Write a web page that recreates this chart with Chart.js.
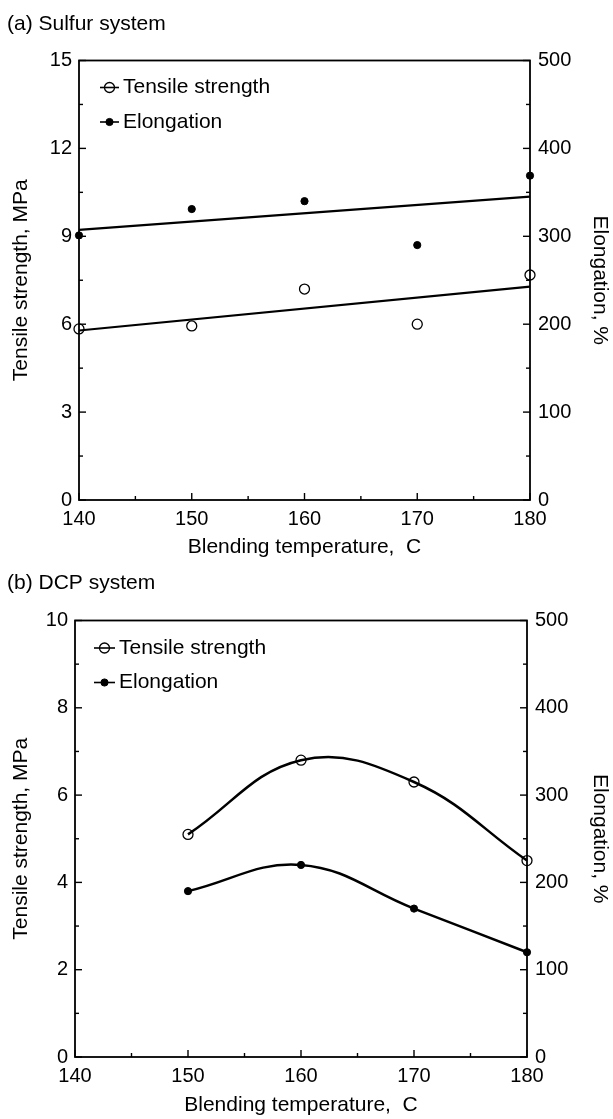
<!DOCTYPE html>
<html>
<head>
<meta charset="utf-8">
<script src="https://cdn.jsdelivr.net/npm/chart.js@4.4.1/dist/chart.umd.min.js"></script>
<style>
  html, body { margin: 0; padding: 0; background: #fff; }
  .panel { position: absolute; left: 0; width: 613px; }
  #pa { top: 0; height: 560px; }
  #pb { top: 560px; height: 559px; }
  canvas { display: block; }
</style>
</head>
<body>
<div class="panel" id="pa"><canvas id="ca" width="613" height="560"></canvas></div>
<div class="panel" id="pb"><canvas id="cb" width="613" height="559"></canvas></div>
<script>
// (a) Sulfur system
const tempsA   = [140, 150, 160, 170, 180];       // blending temperature, C
const tensileA = [5.84, 5.94, 7.2, 6.0, 7.68];    // MPa
const elongA   = [301, 331, 340, 290, 369];       // %

// (b) DCP system
const tempsB   = [150, 160, 170, 180];
const tensileB = [5.1, 6.8, 6.3, 4.5];
const elongB   = [190, 220, 170, 120];

// axis ticks
const xTicks      = [140, 150, 160, 170, 180];
const leftTicksA  = [0, 3, 6, 9, 12, 15];
const leftTicksB  = [0, 2, 4, 6, 8, 10];
const rightTicks  = [0, 100, 200, 300, 400, 500];

const FONT = "'Liberation Sans', Arial, Helvetica, sans-serif";
const INK = '#000';

const pts = (xs, ys) => xs.map((x, i) => ({ x, y: ys[i] }));

// least-squares straight line over the full temperature span
function fitLine(xs, ys, x0, x1) {
  const n = xs.length;
  const mx = xs.reduce((a, b) => a + b, 0) / n;
  const my = ys.reduce((a, b) => a + b, 0) / n;
  let sxy = 0, sxx = 0;
  xs.forEach((x, i) => { sxy += (x - mx) * (ys[i] - my); sxx += (x - mx) * (x - mx); });
  const b = sxy / sxx;
  return [{ x: x0, y: my + b * (x0 - mx) }, { x: x1, y: my + b * (x1 - mx) }];
}

const setTicks = values => scale => { scale.ticks = values.map(v => ({ value: v })); };
const midpoints = v => v.slice(1).map((b, i) => (v[i] + b) / 2);

const openMark = { pointStyle: 'circle', pointRadius: 5, pointHoverRadius: 5,
  pointBackgroundColor: 'rgba(0,0,0,0)', pointBorderColor: INK, pointBorderWidth: 1.3 };
const dotMark = { pointStyle: 'circle', pointRadius: 3.6, pointHoverRadius: 3.6,
  pointBackgroundColor: INK, pointBorderColor: INK, pointBorderWidth: 1 };

// box around the plot plus inward major/minor tick marks
const framePlugin = {
  id: 'frame',
  beforeDatasetsDraw(chart) {
    const { ctx, chartArea: a, scales } = chart;
    ctx.save();
    ctx.strokeStyle = INK;
    ctx.lineWidth = 1.8;
    ctx.strokeRect(a.left, a.top, a.right - a.left, a.bottom - a.top);
    ctx.lineWidth = 1.4;
    const mark = (s, vals, len) => vals.forEach(v => {
      const p = s.getPixelForValue(v);
      ctx.beginPath();
      if (s.axis === 'x') { ctx.moveTo(p, a.bottom); ctx.lineTo(p, a.bottom - len); }
      else if (s.position === 'left') { ctx.moveTo(a.left, p); ctx.lineTo(a.left + len, p); }
      else { ctx.moveTo(a.right, p); ctx.lineTo(a.right - len, p); }
      ctx.stroke();
    });
    Object.values(scales).forEach(s => {
      const major = s.ticks.map(t => t.value);
      mark(s, major, 7);
      mark(s, midpoints(major), 4);
    });
    ctx.restore();
  }
};

// key: short line with the series marker, then the series name
const keyPlugin = {
  id: 'key',
  afterDraw(chart, args, o) {
    const { ctx } = chart;
    const items = chart.data.datasets.filter(d => d.label);
    ctx.save();
    ctx.font = `21px ${FONT}`;
    ctx.textBaseline = 'middle';
    ctx.textAlign = 'left';
    items.forEach((d, i) => {
      const y = o.rows[i];
      ctx.strokeStyle = INK;
      ctx.lineWidth = 1.6;
      ctx.beginPath(); ctx.moveTo(o.x0, y); ctx.lineTo(o.x1, y); ctx.stroke();
      ctx.fillStyle = d.pointBackgroundColor;
      ctx.strokeStyle = d.pointBorderColor;
      ctx.lineWidth = d.pointBorderWidth;
      Chart.helpers.drawPoint(ctx, { pointStyle: 'circle', radius: d.pointRadius,
        borderWidth: d.pointBorderWidth, rotation: 0 }, (o.x0 + o.x1) / 2, y);
      ctx.fillStyle = INK;
      ctx.fillText(d.label, o.textX, y);
    });
    ctx.restore();
  }
};

function panelOptions(p) {
  const tickFont = { family: FONT, size: 20, weight: 'normal' };
  const titleFont = { family: FONT, size: 21, weight: 'normal' };
  const hidden = { display: false, drawTicks: false, tickLength: 0 };
  return {
    responsive: false,
    devicePixelRatio: 1,
    animation: false,
    events: [],
    layout: { padding: { left: 7, right: 0, top: 0, bottom: 0 } },
    plugins: {
      legend: { display: false },
      tooltip: { enabled: false },
      title: { display: true, text: p.title, align: 'start', color: INK,
        font: titleFont, padding: p.titlePad },
      key: p.key
    },
    scales: {
      x: {
        type: 'linear', position: 'bottom', min: 140, max: 180,
        afterBuildTicks: setTicks(xTicks),
        afterFit: s => { s.height = p.xH; },
        grid: hidden, border: { display: false },
        ticks: { color: INK, font: tickFont, padding: 7, maxRotation: 0, autoSkip: false },
        title: { display: true, text: 'Blending temperature,  C', color: INK, font: titleFont,
          padding: { top: 0, bottom: p.xTitlePad } }
      },
      y: {
        type: 'linear', position: 'left', min: 0, max: p.leftMax,
        afterBuildTicks: setTicks(p.leftTicks),
        afterFit: s => { s.width = p.yW; },
        grid: hidden, border: { display: false },
        ticks: { color: INK, font: tickFont, padding: 7 },
        title: { display: true, text: 'Tensile strength, MPa', color: INK, font: titleFont,
          padding: { top: 1.4, bottom: 0 } }
      },
      y2: {
        type: 'linear', position: 'right', min: 0, max: 500,
        afterBuildTicks: setTicks(rightTicks),
        afterFit: s => { s.width = p.y2W; },
        grid: hidden, border: { display: false },
        ticks: { color: INK, font: tickFont, padding: 8 },
        title: { display: true, text: 'Elongation, %', color: INK, font: titleFont,
          padding: { top: 0.4, bottom: 0 } }
      }
    }
  };
}

// (a) markers with straight trend lines
new Chart(document.getElementById('ca'), {
  type: 'scatter',
  data: {
    datasets: [
      Object.assign({ label: 'Tensile strength', data: pts(tempsA, tensileA), yAxisID: 'y', clip: false }, openMark),
      Object.assign({ label: 'Elongation', data: pts(tempsA, elongA), yAxisID: 'y2', clip: false }, dotMark),
      { data: fitLine(tempsA, tensileA, 140, 180), yAxisID: 'y', showLine: true,
        borderColor: INK, borderWidth: 2.2, pointRadius: 0, clip: false },
      { data: fitLine(tempsA, elongA, 140, 180), yAxisID: 'y2', showLine: true,
        borderColor: INK, borderWidth: 2.2, pointRadius: 0, clip: false }
    ]
  },
  options: panelOptions({
    title: '(a) Sulfur system', titlePad: { top: 11.4, bottom: 23.9 },
    xH: 60, xTitlePad: 0, yW: 72, y2W: 83,
    leftMax: 15, leftTicks: leftTicksA,
    key: { x0: 100, x1: 119, textX: 123, rows: [87.5, 122] }
  }),
  plugins: [framePlugin, keyPlugin]
});

// (b) markers joined by smooth curves
new Chart(document.getElementById('cb'), {
  type: 'scatter',
  data: {
    datasets: [
      Object.assign({ label: 'Tensile strength', data: pts(tempsB, tensileB), yAxisID: 'y',
        showLine: true, tension: 0.4, borderColor: INK, borderWidth: 2.5, clip: false }, openMark),
      Object.assign({ label: 'Elongation', data: pts(tempsB, elongB), yAxisID: 'y2',
        showLine: true, tension: 0.4, borderColor: INK, borderWidth: 2.5, clip: false }, dotMark)
    ]
  },
  options: panelOptions({
    title: '(b) DCP system', titlePad: { top: 10.9, bottom: 24.4 },
    xH: 62, xTitlePad: 1.4, yW: 68, y2W: 86,
    leftMax: 10, leftTicks: leftTicksB,
    key: { x0: 94, x1: 115, textX: 119, rows: [88, 122.5] }
  }),
  plugins: [framePlugin, keyPlugin]
});
</script>
</body>
</html>
